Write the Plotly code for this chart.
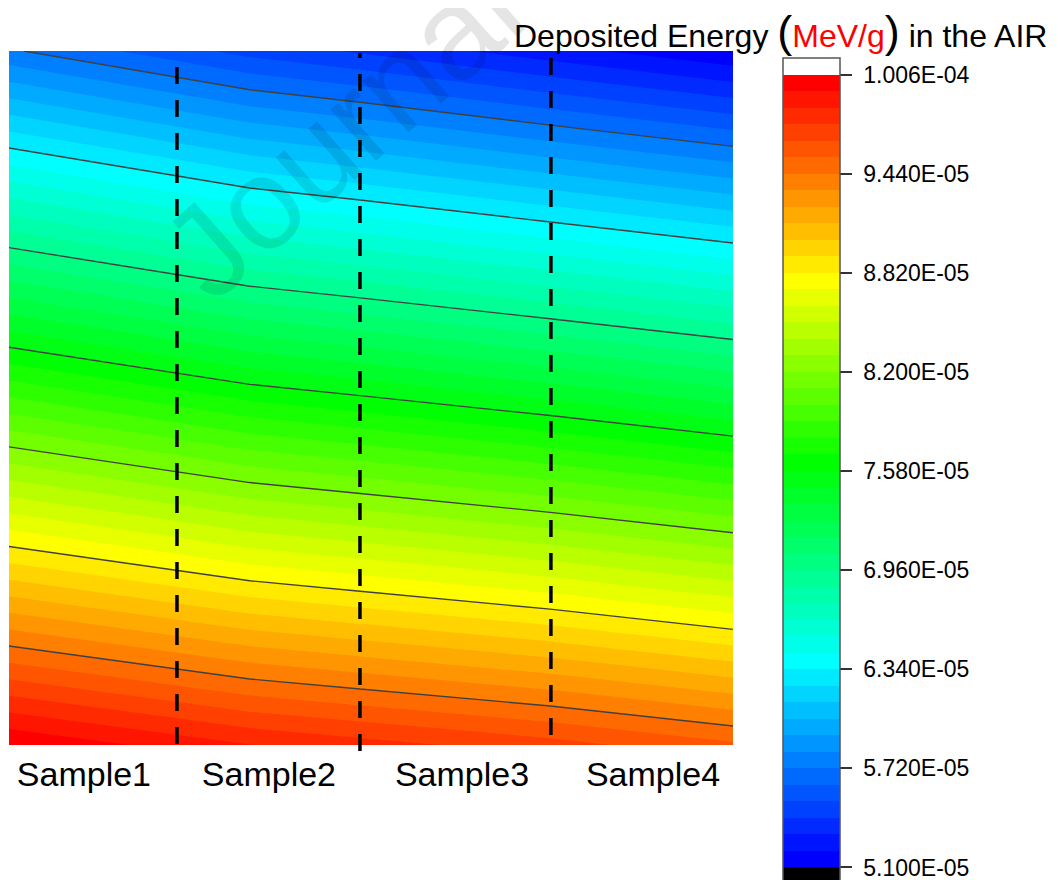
import plotly.graph_objects as go

# ---------------- data ----------------
# horizontal position across the four samples (cm) and vertical position (cm)
x_pos = [0.0, 1.33, 1.94, 2.99, 4.0]
y_pos = [0.0, 3.834]
# deposited energy (MeV/g) at the bottom and top of each column
energy_bottom = [10.056e-5, 9.857e-5, 9.795e-5, 9.690e-5, 9.562e-5]
energy_top = [5.736e-5, 5.475e-5, 5.395e-5, 5.245e-5, 5.108e-5]

sample_names = ["Sample1", "Sample2", "Sample3", "Sample4"]
sample_centers = [0.414, 1.436, 2.503, 3.558]
sample_bounds = [0.928, 1.939, 2.994]
bound_bottom = [0.005, -0.033, 0.055]
bound_top = [3.768, 3.823, 3.823]

cbar_ticks = [5.100e-5, 5.720e-5, 6.340e-5, 6.960e-5, 7.580e-5,
              8.200e-5, 8.820e-5, 9.440e-5, 1.006e-4]
cbar_text = ["5.100E-05", "5.720E-05", "6.340E-05", "6.960E-05", "7.580E-05",
             "8.200E-05", "8.820E-05", "9.440E-05", "1.006E-04"]

# ---------------- styling helpers ----------------
FONT = "Liberation Sans, Arial, sans-serif"
z = [energy_bottom, energy_top]

lvl_start = cbar_ticks[0]
lvl_end = cbar_ticks[-1]
n_bands = 48
lvl_size = (lvl_end - lvl_start) / n_bands

anchors = [(0, (0, 0, 255)), (12, (0, 255, 255)), (24, (0, 255, 0)),
           (35, (255, 255, 0)), (47, (255, 0, 0))]


def band_color(k):
    for (k0, c0), (k1, c1) in zip(anchors[:-1], anchors[1:]):
        if k0 <= k <= k1:
            t = (k - k0) / (k1 - k0)
            c = [round(a + (b - a) * t) for a, b in zip(c0, c1)]
            return "rgb(%d,%d,%d)" % tuple(c)
    return "rgb(255,0,0)"


bands = [band_color(k) for k in range(n_bands)]

# contour fill colorscale (plotly maps band above level j to (j+1)/(nlev))
nlev = n_bands + 1
fill_scale = [[0.0, "rgb(0,0,0)"]]
for k, c in enumerate(bands):
    fill_scale.append([(k + 1) / nlev, c])
fill_scale.append([1.0, "rgb(255,255,255)"])

# stepped colorscale for the colorbar (black band, 48 bands, white band)
all_bands = ["rgb(0,0,0)"] + bands + ["rgb(255,255,255)"]
nb = len(all_bands)
step_scale = []
for b, c in enumerate(all_bands):
    step_scale.append([b / nb, c])
    step_scale.append([(b + 1) / nb, c])
cmin = lvl_start - lvl_size
cmax = lvl_end + lvl_size

# layout geometry (page pixels; the page body adds an 8px offset)
OFF = 8
W, H = 1058, 880
PL, PR, PT, PB = 9, 733, 51, 745      # plot box in page pixels
L = PL - OFF
T = PT - OFF
R = W - (PR - OFF)
B = H - (PB - OFF)
plot_w = PR - PL
plot_h = PB - PT


def fx(px):
    return (px - PL) / plot_w


def fy(py):
    return (PB - py) / plot_h


fig = go.Figure()

# colorbar carrier (hidden under the contour fill)
fig.add_trace(go.Heatmap(
    x=x_pos, y=y_pos, z=z, zmin=cmin, zmax=cmax, colorscale=step_scale,
    hoverinfo="skip",
    colorbar=dict(
        x=fx(783), xanchor="left", xpad=0,
        y=fy(58), yanchor="top", ypad=0,
        len=826, lenmode="pixels", thickness=57,
        outlinewidth=1.5, outlinecolor="#555555",
        tickmode="array", tickvals=cbar_ticks,
        ticktext=["\u00a0" + t for t in cbar_text],
        ticks="outside", ticklen=12, tickwidth=2, tickcolor="#333333",
        tickfont=dict(family=FONT, size=23, color="black"),
    ),
))

fig.add_trace(go.Contour(
    x=x_pos, y=y_pos, z=z,
    autocontour=False,
    contours=dict(start=lvl_start, end=lvl_end, size=lvl_size,
                  coloring="fill", showlines=False),
    colorscale=fill_scale, showscale=False,
    line=dict(width=0, smoothing=0),
    hoverinfo="skip",
))

fig.add_trace(go.Contour(
    x=x_pos, y=y_pos, z=z,
    autocontour=False,
    contours=dict(start=cbar_ticks[1], end=cbar_ticks[-2], size=cbar_ticks[1] - cbar_ticks[0],
                  coloring="none", showlines=True),
    line=dict(width=1.4, color="#404040", smoothing=0),
    showscale=False, hoverinfo="skip",
))

# sample boundaries
xr = (x_pos[0], x_pos[-1])
yr = (y_pos[0], y_pos[-1])
for xb, y0, y1 in zip(sample_bounds, bound_bottom, bound_top):
    sx = (xb - xr[0]) / (xr[1] - xr[0])
    fig.add_shape(type="line", xref="paper", yref="paper",
                  x0=sx, x1=sx,
                  y0=(y0 - yr[0]) / (yr[1] - yr[0]), y1=(y1 - yr[0]) / (yr[1] - yr[0]),
                  line=dict(color="black", width=3.5, dash="17px,16px"))

# title
fig.add_annotation(
    xref="paper", yref="paper", x=fx(1049), y=fy(59),
    xanchor="right", yanchor="bottom", showarrow=False,
    text='Deposited Energy <span style="font-size:45px">(</span>'
         '<span style="color:red">MeV/g</span>'
         '<span style="font-size:45px">)</span> in the AIR',
    font=dict(family=FONT, size=32, color="black"),
)

# watermark
fig.add_annotation(
    xref="paper", yref="paper", x=fx(342), y=fy(131),
    xanchor="center", yanchor="middle", showarrow=False, textangle=-41.5,
    text="Journal", font=dict(family=FONT, size=130, color="rgba(0,0,0,0.1)"),
)

fig.update_xaxes(range=list(xr), tickmode="array", tickvals=sample_centers,
                 ticktext=sample_names, ticks="", showgrid=False, zeroline=False,
                 showline=False, ticklabelstandoff=6,
                 tickfont=dict(family=FONT, size=34, color="black"))
fig.update_yaxes(range=list(yr), visible=False, showgrid=False, zeroline=False)

fig.update_layout(
    width=W, height=H,
    margin=dict(l=L, r=R, t=T, b=B, autoexpand=False),
    paper_bgcolor="white", plot_bgcolor="white",
    showlegend=False,
    font=dict(family=FONT),
)

fig.write_html("out.html")
